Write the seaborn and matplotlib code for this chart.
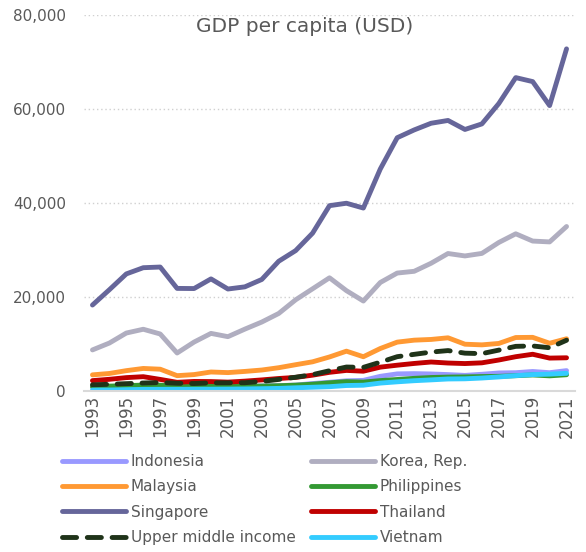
import pandas as pd
import matplotlib.pyplot as plt
import seaborn as sns
from matplotlib.ticker import FuncFormatter

years = list(range(1993, 2022))

indonesia = [842, 913, 1026, 1138, 1063, 464, 671, 780, 748, 900, 1065, 1150, 1259, 1586, 1859,
             2167, 2262, 3122, 3643, 3694, 3623, 3492, 3323, 3558, 3837, 3894, 4151, 3896, 4334]
korea = [8741, 10206, 12333, 13138, 12131, 8085, 10409, 12257, 11561, 13165, 14673, 16496, 19403,
         21743, 24086, 21350, 19144, 23087, 25096, 25467, 27180, 29253, 28737, 29274, 31601, 33447,
         31902, 31721, 34998]
malaysia = [3434, 3729, 4330, 4798, 4638, 3263, 3493, 4044, 3913, 4166, 4462, 4956, 5594, 6210,
            7243, 8475, 7292, 9041, 10399, 10817, 10970, 11319, 9955, 9818, 10118, 11379, 11414,
            10161, 11109]
philippines = [908, 1041, 1144, 1254, 1234, 957, 1083, 1073, 986, 1033, 1047, 1120, 1245, 1453,
               1743, 1991, 1893, 2217, 2450, 2694, 2871, 2960, 3001, 3074, 3123, 3252, 3413, 3224, 3461]
singapore = [18290, 21553, 24915, 26233, 26376, 21829, 21796, 23853, 21700, 22160, 23730, 27608,
             29870, 33580, 39433, 39950, 38927, 47237, 53891, 55546, 56967, 57563, 55647, 56828,
             61162, 66679, 65831, 60727, 72794]
thailand = [2209, 2491, 2846, 3044, 2468, 1846, 2033, 2008, 1890, 2097, 2359, 2660, 2894, 3369,
            3973, 4380, 4213, 5076, 5492, 5861, 6169, 5952, 5840, 5994, 6593, 7297, 7817, 7002, 7066]
upper_middle = [1320, 1430, 1560, 1700, 1800, 1650, 1590, 1730, 1740, 1760, 2040, 2460, 2930, 3480,
                4310, 5100, 5030, 6130, 7300, 7800, 8280, 8600, 8050, 7950, 8700, 9500, 9580, 9200,
                10800]
vietnam = [186, 220, 288, 337, 361, 361, 374, 390, 405, 440, 489, 554, 684, 797, 919, 1165, 1232,
           1684, 1954, 2191, 2367, 2558, 2595, 2760, 2992, 3267, 3491, 3586, 3756]

series = {
    "Indonesia": indonesia,
    "Korea, Rep.": korea,
    "Malaysia": malaysia,
    "Philippines": philippines,
    "Singapore": singapore,
    "Thailand": thailand,
    "Upper middle income": upper_middle,
    "Vietnam": vietnam,
}
colors = ["#9999ff", "#b0aec0", "#ff9933", "#339933", "#66669a", "#c00000", "#1f3319", "#33ccff"]

rows = []
for name, vals in series.items():
    for y, v in zip(years, vals):
        rows.append({"Year": y, "Country": name, "GDP": v})
df = pd.DataFrame(rows)

sns.set_style("white")
plt.rcParams["font.family"] = ["DejaVu Sans"]
grey = "#595959"

fig = plt.figure(figsize=(5.86, 5.52), dpi=100)
ax = fig.add_axes([84 / 586, 1 - 391 / 552, 491 / 586, 376 / 552])

names = list(series.keys())
dashes = {n: "" for n in names}
dashes["Upper middle income"] = (2.9, 2.2)
sns.lineplot(data=df, x="Year", y="GDP", hue="Country", style="Country", hue_order=names,
             style_order=names, palette=colors, dashes=dashes, linewidth=3.5, ax=ax,
             solid_capstyle="round", dash_capstyle="round")

ax.set_xlim(1992.5, 2021.5)
ax.set_ylim(0, 80000)
ax.set_xticks(range(1993, 2022, 2))
ax.set_yticks(range(0, 80001, 20000))
ax.yaxis.set_major_formatter(FuncFormatter(lambda v, p: f"{int(v):,}"))
ax.tick_params(axis="x", rotation=90, labelsize=12, colors=grey, length=0, pad=3)
ax.tick_params(axis="y", labelsize=11, colors=grey, length=0, pad=13)
ax.grid(axis="y", color="#d0d0d0", linestyle=(0, (1, 2)), linewidth=1)
ax.grid(axis="x", visible=False)
ax.set_axisbelow(True)
for s in ["left", "right", "top"]:
    ax.spines[s].set_visible(False)
ax.spines["bottom"].set_color("#d9d9d9")
ax.spines["bottom"].set_linewidth(1.5)
ax.set_xlabel("")
ax.set_ylabel("")

ax.text((305 - 84) / 491, (391 - 27) / 376, "GDP per capita (USD)", transform=ax.transAxes,
        ha="center", va="center", fontsize=14.5, color=grey)

handles, labels = ax.get_legend_handles_labels()
order = [0, 2, 4, 6, 1, 3, 5, 7]
ax.legend([handles[i] for i in order], [labels[i] for i in order], ncol=2, frameon=False,
          loc="upper left", bbox_to_anchor=(62 / 586, 1 - 454 / 552),
          bbox_transform=fig.transFigure, borderaxespad=0, borderpad=0,
          fontsize=11, handlelength=4.2, handletextpad=0.3, columnspacing=1.0,
          labelspacing=0.68, labelcolor=grey)

fig.savefig("out.png", dpi=100)
